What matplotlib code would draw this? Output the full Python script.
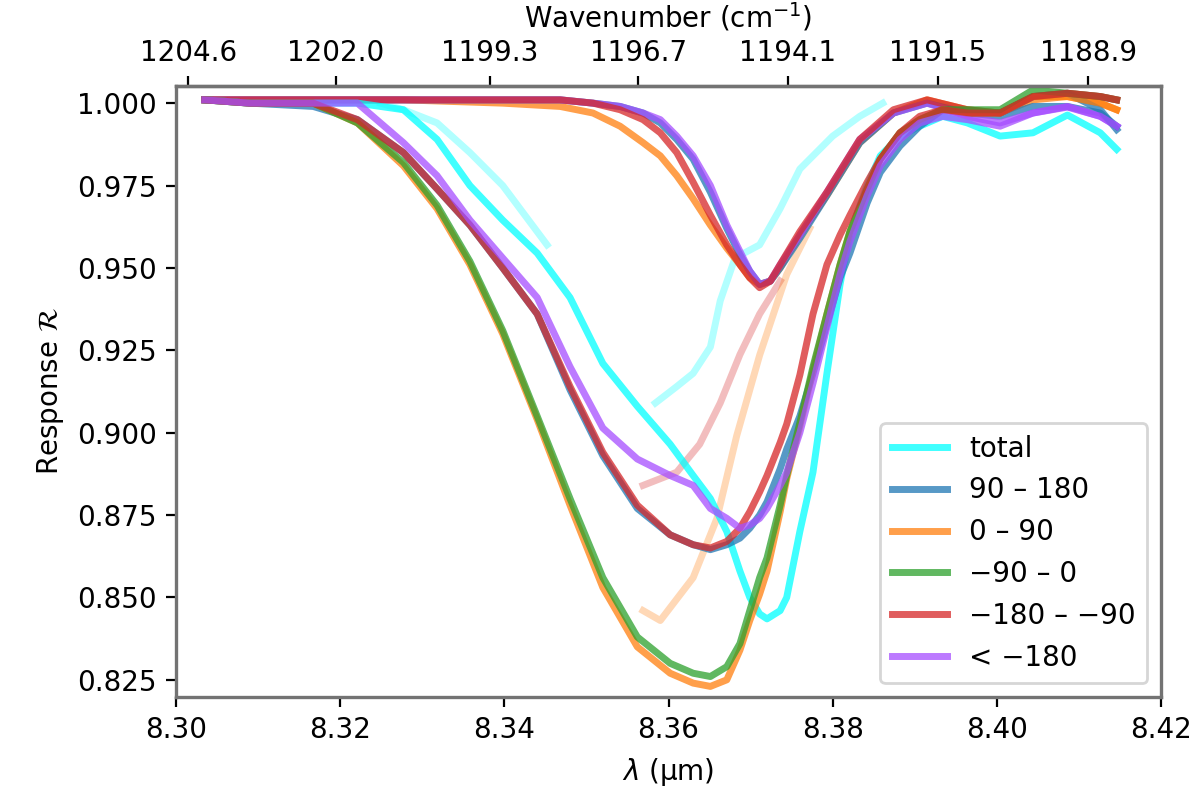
import matplotlib
matplotlib.use("Agg")
import matplotlib.pyplot as plt
from matplotlib.ticker import FixedLocator, FormatStrFormatter, MultipleLocator

# ---------------- data ----------------
wl = [8.3035, 8.3090, 8.3167, 8.3221, 8.3277, 8.3318, 8.3358, 8.3398, 8.3440, 8.3480,
      8.3520, 8.3562, 8.3602, 8.3630, 8.3651, 8.3671, 8.3687, 8.3699, 8.3711, 8.3720,
      8.3736, 8.3744, 8.3760, 8.3776, 8.3793, 8.3809, 8.3821, 8.3842, 8.3858, 8.3882,
      8.3906, 8.3934, 8.3964, 8.4004, 8.4044, 8.4086, 8.4126, 8.4146]

r_total = [1.001, 1.000, 1.000, 1.000, 0.998, 0.989, 0.975, 0.9645, 0.9545, 0.941,
           0.921, 0.908, 0.8965, 0.887, 0.880, 0.870, 0.858, 0.850, 0.845, 0.8435,
           0.846, 0.850, 0.870, 0.888, 0.918, 0.945, 0.9607, 0.975, 0.984, 0.990,
           0.993, 0.996, 0.994, 0.990, 0.991, 0.9964, 0.991, 0.986]
r_blue = [1.001, 1.000, 0.999, 0.995, 0.985, 0.974, 0.963, 0.950, 0.936, 0.913,
          0.893, 0.877, 0.869, 0.866, 0.8645, 0.866, 0.868, 0.871, 0.875, 0.879,
          0.889, 0.895, 0.905, 0.918, 0.933, 0.947, 0.9545, 0.9697, 0.979, 0.987,
          0.993, 0.998, 0.997, 0.997, 1.002, 1.003, 0.998, 0.992]
r_orange = [1.001, 1.000, 1.000, 0.994, 0.981, 0.968, 0.951, 0.930, 0.904, 0.878,
            0.853, 0.835, 0.827, 0.824, 0.823, 0.825, 0.834, 0.843, 0.851, 0.858,
            0.876, 0.886, 0.902, 0.919, 0.936, 0.951, 0.961, 0.974, 0.983, 0.991,
            0.995, 0.998, 0.997, 0.997, 1.002, 1.002, 1.000, 0.998]
r_green = [1.001, 1.000, 1.000, 0.994, 0.982, 0.969, 0.952, 0.931, 0.905, 0.880,
           0.856, 0.838, 0.830, 0.827, 0.826, 0.829, 0.836, 0.846, 0.856, 0.862,
           0.878, 0.887, 0.903, 0.920, 0.936, 0.951, 0.961, 0.974, 0.983, 0.991,
           0.995, 0.998, 0.998, 0.998, 1.004, 1.003, 1.002, 1.001]
r_red = [1.001, 1.000, 1.000, 0.995, 0.985, 0.974, 0.963, 0.950, 0.936, 0.914,
         0.894, 0.878, 0.869, 0.866, 0.865, 0.867, 0.871, 0.876, 0.882, 0.887,
         0.897, 0.9026, 0.9175, 0.936, 0.951, 0.960, 0.966, 0.976, 0.983, 0.991,
         0.996, 0.998, 0.997, 0.997, 1.002, 1.003, 1.002, 1.001]
r_violet = [1.001, 1.000, 1.000, 1.000, 0.988, 0.978, 0.9645, 0.953, 0.941, 0.920,
            0.9014, 0.892, 0.887, 0.884, 0.877, 0.874, 0.871, 0.872, 0.874, 0.877,
            0.884, 0.888, 0.900, 0.915, 0.932, 0.948, 0.958, 0.972, 0.981, 0.989,
            0.994, 0.996, 0.995, 0.993, 0.997, 0.9988, 0.996, 0.993]

# narrow (shallow) absorption set
wl_n = [8.3035, 8.3167, 8.3277, 8.3398, 8.3468, 8.3508, 8.3541, 8.3569, 8.3590, 8.3610,
        8.3630, 8.3651, 8.3671, 8.3687, 8.3699, 8.3711, 8.3724, 8.3736, 8.3760, 8.3793,
        8.3833, 8.3874, 8.3915, 8.3964, 8.4004, 8.4044, 8.4086, 8.4126, 8.4146]
n_orange = [1.001, 1.001, 1.001, 1.000, 0.999, 0.997, 0.993, 0.988, 0.984, 0.978,
            0.971, 0.963, 0.956, 0.951, 0.947, 0.945, 0.946, 0.950, 0.960, 0.972,
            0.988, 0.997, 1.001, 0.998, 0.997, 1.001, 1.002, 1.000, 0.998]
n_red = [1.001, 1.001, 1.001, 1.001, 1.001, 1.000, 0.998, 0.995, 0.991, 0.985,
         0.976, 0.966, 0.957, 0.951, 0.947, 0.944, 0.946, 0.951, 0.961, 0.973,
         0.989, 0.998, 1.001, 0.998, 0.997, 1.002, 1.003, 1.002, 1.001]
n_blue = [1.001, 1.001, 1.001, 1.001, 1.001, 1.000, 0.999, 0.997, 0.994, 0.989,
          0.983, 0.973, 0.962, 0.954, 0.949, 0.945, 0.946, 0.950, 0.959, 0.972,
          0.988, 0.997, 1.000, 0.997, 0.996, 0.999, 0.999, 0.997, 0.993]
n_violet = [1.001, 1.001, 1.001, 1.001, 1.001, 1.000, 0.999, 0.997, 0.995, 0.990,
            0.984, 0.975, 0.963, 0.955, 0.949, 0.945, 0.946, 0.951, 0.960, 0.973,
            0.989, 0.997, 1.000, 0.996, 0.994, 0.997, 0.999, 0.996, 0.993]

# faint partial curves
fc1_wl = [8.3249, 8.3277, 8.3318, 8.3358, 8.3398, 8.3440, 8.3452]
fc1_r = [1.000, 0.998, 0.994, 0.985, 0.975, 0.961, 0.957]
fc2_wl = [8.3584, 8.3610, 8.3630, 8.3651, 8.3663, 8.3681, 8.3711, 8.3736, 8.3760, 8.3800, 8.3833, 8.3861]
fc2_r = [0.909, 0.914, 0.918, 0.926, 0.940, 0.953, 0.957, 0.968, 0.980, 0.990, 0.996, 1.000]
fs_wl = [8.3569, 8.3610, 8.3638, 8.3663, 8.3687, 8.3711, 8.3736]
fs_r = [0.884, 0.888, 0.8965, 0.909, 0.9237, 0.936, 0.946]
fo_wl = [8.3569, 8.3590, 8.3630, 8.3659, 8.3683, 8.3711, 8.3744, 8.3772]
fo_r = [0.846, 0.843, 0.856, 0.874, 0.899, 0.9235, 0.948, 0.962]

labels = ["total", "90 – 180", "0 – 90", "−90 – 0", "−180 – −90", "< −180"]
colors = ["cyan", "tab:blue", "tab:orange", "tab:green", "tab:red", "#a64dff"]

x_ticks = [8.30, 8.32, 8.34, 8.36, 8.38, 8.40, 8.42]
y_ticks = [0.825, 0.850, 0.875, 0.900, 0.925, 0.950, 0.975, 1.000]
top_ticks = [1204.6, 1202.0, 1199.3, 1196.7, 1194.1, 1191.5, 1188.9]

# ---------------- plot ----------------
fig = plt.figure(figsize=(6, 3.96), dpi=200)
ax = fig.add_axes([0.1467, 0.12, 0.8208, 0.7714])

lw = 2.5
al = 0.75
# faint pieces
ax.plot(fc1_wl, fc1_r, color=colors[0], lw=lw, alpha=0.3)
ax.plot(fc2_wl, fc2_r, color=colors[0], lw=lw, alpha=0.3)
ax.plot(fs_wl, fs_r, color=colors[4], lw=lw, alpha=0.3)
ax.plot(fo_wl, fo_r, color=colors[2], lw=lw, alpha=0.3)
# narrow set
ax.plot(wl_n, n_orange, color=colors[2], lw=lw, alpha=al)
ax.plot(wl_n, n_blue, color=colors[1], lw=lw, alpha=al)
ax.plot(wl_n, n_violet, color=colors[5], lw=lw, alpha=al)
ax.plot(wl_n, n_red, color=colors[4], lw=lw, alpha=al)
# main set
series = [r_total, r_blue, r_orange, r_green, r_red, r_violet]
for ys, c, lab in zip(series, colors, labels):
    ax.plot(wl, ys, color=c, lw=lw, alpha=al, label=lab)

ax.set_xlim(8.30, 8.42)
ax.set_ylim(0.8198, 1.0052)
ax.xaxis.set_major_locator(FixedLocator(x_ticks))
ax.xaxis.set_major_formatter(FormatStrFormatter("%.2f"))
ax.yaxis.set_major_locator(FixedLocator(y_ticks))
ax.yaxis.set_major_formatter(FormatStrFormatter("%.3f"))
ax.set_xlabel(r"$\lambda$ (μm)")
ax.set_ylabel(r"Response $\mathcal{R}$")

sec = ax.secondary_xaxis("top", functions=(lambda l: 1e4 / l, lambda n: 1e4 / n))
sec.xaxis.set_major_locator(FixedLocator(top_ticks))
sec.xaxis.set_major_formatter(FormatStrFormatter("%.1f"))
sec.set_xlabel(r"Wavenumber (cm$^{-1}$)")

for sp in ax.spines.values():
    sp.set_color("0.45")
    sp.set_linewidth(1.2)
for sp in sec.spines.values():
    sp.set_color("0.45")
    sp.set_linewidth(1.2)

ax.legend(loc="lower right")
fig.savefig("out.png", dpi=200)
